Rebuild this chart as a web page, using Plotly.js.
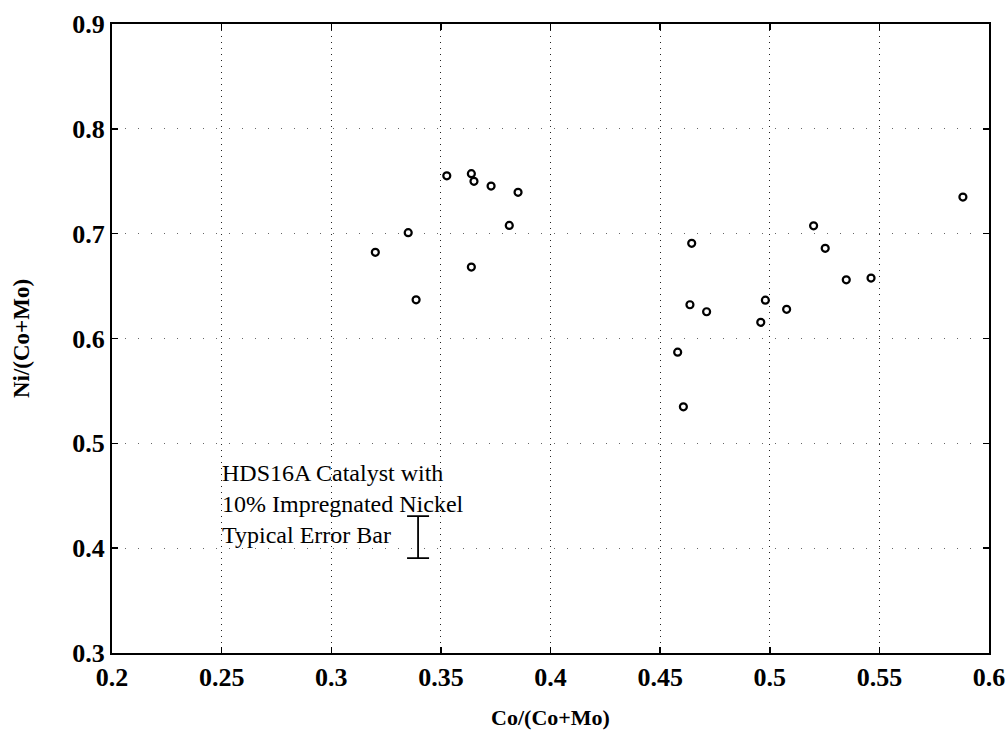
<!DOCTYPE html>
<html>
<head>
<meta charset="utf-8">
<script src="https://cdn.plot.ly/plotly-3.0.1.min.js"></script>
<style>html,body{margin:0;padding:0;background:#fff;}#chart{width:1007px;height:741px;}</style>
</head>
<body>
<div id="chart"></div>
<script>
// Co/(Co+Mo) values
const coRatio = [0.3527, 0.3639, 0.3651, 0.3729, 0.3852, 0.3812, 0.3639, 0.3351, 0.3201, 0.3387,
                 0.4644, 0.4636, 0.4580, 0.4606, 0.4712, 0.4980, 0.4959, 0.5077,
                 0.5200, 0.5253, 0.5349, 0.5462, 0.5881];
// Ni/(Co+Mo) values
const niRatio = [0.7552, 0.7572, 0.7499, 0.7454, 0.7394, 0.7079, 0.6681, 0.7009, 0.6822, 0.6369,
                 0.6908, 0.6322, 0.5870, 0.5348, 0.6255, 0.6366, 0.6154, 0.6278,
                 0.7075, 0.6860, 0.6560, 0.6576, 0.7349];
// typical error bar
const errX = [0.3396];
const errY = [0.4105];
const errHalf = [0.02];
// annotation lines
const noteLines = ["HDS16A Catalyst with", "10% Impregnated Nickel", "Typical Error Bar"];
const noteX = 0.25;
const noteY = 0.4425;
const xTicks = [0.2, 0.25, 0.3, 0.35, 0.4, 0.45, 0.5, 0.55, 0.6];
const xTickText = ["0.2", "0.25", "0.3", "0.35", "0.4", "0.45", "0.5", "0.55", "0.6"];
const yTicks = [0.3, 0.4, 0.5, 0.6, 0.7, 0.8, 0.9];
const yTickText = ["0.3", "0.4", "0.5", "0.6", "0.7", "0.8", "0.9"];

const serif = "Liberation Serif, Times New Roman, serif";

const traces = [
  {
    x: coRatio, y: niRatio, type: 'scatter', mode: 'markers',
    marker: {symbol: 'circle-open', size: 7, color: '#000', line: {width: 2.2, color: '#000'}},
    showlegend: false, hoverinfo: 'skip'
  },
  {
    x: errX, y: errY, type: 'scatter', mode: 'markers',
    marker: {size: 1, color: 'rgba(0,0,0,0)'},
    error_y: {type: 'data', array: errHalf, visible: true, color: '#000', thickness: 1.8, width: 11},
    showlegend: false, hoverinfo: 'skip'
  }
];

const annotations = [{
  x: noteX, y: noteY, xref: 'x', yref: 'y', text: noteLines.join('<br>'), showarrow: false,
  xanchor: 'left', yanchor: 'middle', align: 'left', xshift: -2,
  font: {family: serif, size: 24, color: '#000'}
}];

const layout = {
  width: 1007, height: 741,
  margin: {l: 112, r: 18, t: 24, b: 88},
  paper_bgcolor: '#fff', plot_bgcolor: '#fff',
  showlegend: false,
  xaxis: {
    range: [0.2, 0.6], tickvals: xTicks, ticktext: xTickText,
    showline: true, linecolor: '#000', linewidth: 2, mirror: 'ticks',
    ticks: 'inside', ticklen: 6, tickwidth: 1.5, tickcolor: '#000',
    showgrid: true, gridcolor: '#222', gridwidth: 1, griddash: '1px,5px',
    zeroline: false,
    tickfont: {family: serif, size: 26, color: '#000', weight: 'bold'},
    title: {text: 'Co/(Co+Mo)', font: {family: serif, size: 22, color: '#000', weight: 'bold'}, standoff: 18}
  },
  yaxis: {
    range: [0.3, 0.9], tickvals: yTicks, ticktext: yTickText,
    showline: true, linecolor: '#000', linewidth: 2, mirror: 'ticks',
    ticks: 'inside', ticklen: 6, tickwidth: 1.5, tickcolor: '#000',
    showgrid: true, gridcolor: '#666', gridwidth: 1, griddash: '1px,12px',
    zeroline: false,
    tickfont: {family: serif, size: 26, color: '#000', weight: 'bold'},
    title: {text: 'Ni/(Co+Mo)', font: {family: serif, size: 23, color: '#000', weight: 'bold'}, standoff: 36}
  },
  annotations: annotations
};

Plotly.newPlot('chart', traces, layout, {staticPlot: true, displayModeBar: false});
</script>
</body>
</html>
